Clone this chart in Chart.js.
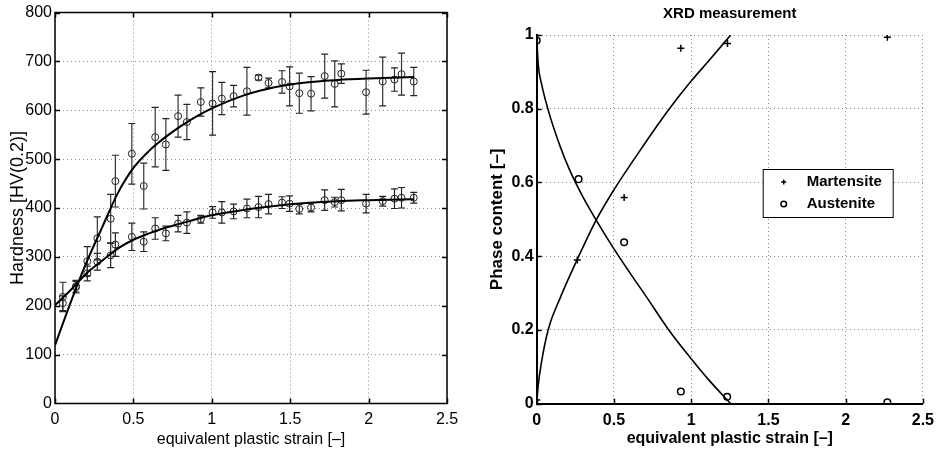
<!DOCTYPE html>
<html>
<head>
<meta charset="utf-8">
<script src="https://cdn.jsdelivr.net/npm/chart.js"></script>
<style>
  body { margin: 0; background: #fff; }
  #wrap { position: relative; width: 941px; height: 454px; }
  canvas { position: absolute; top: 0; }
</style>
</head>
<body>
<div id="wrap">
  <canvas id="hard" width="470" height="454" style="left:0"></canvas>
  <canvas id="xrd" width="471" height="454" style="left:470px"></canvas>
</div>
<script>
// Hardness measurements (left panel)
var strain = [0.05, 0.134, 0.206, 0.27, 0.355, 0.385, 0.49, 0.566, 0.639, 0.707, 0.785, 0.841, 0.93, 1.005, 1.064, 1.139,
              1.224, 1.298, 1.362, 1.448, 1.496, 1.558, 1.633, 1.72, 1.784, 1.826, 1.984, 2.09, 2.165, 2.21, 2.288];
var hardHigh = [218, 240, 291, 338, 378, 455, 511, 445, 545, 530, 588, 576, 617, 614, 624, 629,
                639, 667, 656, 658, 649, 635, 634, 670, 654, 675, 637, 659, 663, 674, 659];
var errHigh = [30, 12, 30, 44, 50, 53, 62, 47, 61, 53, 43, 36, 29, 65, 33, 22,
               49, 5, 10, 23, 40, 41, 35, 45, 47, 20, 45, 50, 24, 43, 29];
var hardLow = [205, 238, 266, 290, 303, 325, 341, 331, 358, 348, 368, 370, 377, 391, 391, 393,
               399, 402, 408, 411, 409, 398, 401, 416, 412, 416, 409, 414, 419, 421, 421];
var errLow = [15, 12, 15, 17, 25, 24, 28, 20, 22, 15, 17, 22, 8, 12, 22, 15,
              19, 22, 20, 12, 16, 10, 9, 21, 10, 22, 19, 10, 20, 21, 11];

// fitted curves
var fitX = [0, 0.1, 0.2, 0.3, 0.4, 0.5, 0.6, 0.7, 0.8, 0.9, 1.0, 1.2, 1.4, 1.6, 1.8, 2.0, 2.29];
var fitHigh = [119, 207, 288, 360, 430, 482, 517, 544, 567, 587, 604, 630, 647, 657, 662, 665, 668];
var fitLow = [201, 232, 266, 292, 317, 335, 348, 359, 368, 377, 385, 396, 404, 410, 414, 416, 418];

var hardTicksX = [0, 0.5, 1, 1.5, 2, 2.5];
var hardTicksY = [0, 100, 200, 300, 400, 500, 600, 700, 800];

// XRD measurement (right panel)
var xrdStrain = [0, 0.263, 0.566, 0.933, 1.235, 2.27];
var martensite = [0.01, 0.39, 0.559, 0.964, 0.977, 0.994];
var austStrain = [0, 0.271, 0.566, 0.933, 1.233, 2.27];
var austenite = [0.985, 0.609, 0.438, 0.033, 0.019, 0.004];

var martCurveX = [0, 0.01, 0.03, 0.074, 0.15, 0.25, 0.385, 0.5, 0.65, 0.854, 1.0, 1.11, 1.256];
var martCurveY = [0, 0.05, 0.11, 0.2, 0.285, 0.38, 0.498, 0.58, 0.675, 0.797, 0.875, 0.928, 1.0];
var austCurveX = [0, 0.01, 0.03, 0.074, 0.15, 0.213, 0.3, 0.385, 0.5, 0.6, 0.705, 0.855, 1.0, 1.111, 1.256];
var austCurveY = [0.995, 0.92, 0.87, 0.797, 0.70, 0.634, 0.56, 0.498, 0.42, 0.357, 0.293, 0.2, 0.122, 0.066, 0];

var xrdTicksX = [0, 0.5, 1, 1.5, 2, 2.5];
var xrdTicksY = [0, 0.2, 0.4, 0.6, 0.8, 1];

Chart.defaults.font.family = '"Liberation Sans", Arial, Helvetica, sans-serif';
Chart.defaults.font.size = 16;
Chart.defaults.color = '#000';

function pts(xs, ys) {
    return xs.map(function (x, i) { return {x: x, y: ys[i]}; });
}

// vertical error segments, broken by null points
function errSegments(xs, ys, es) {
    var out = [];
    xs.forEach(function (x, i) {
        out.push({x: x, y: ys[i] - es[i]}, {x: x, y: ys[i] + es[i]}, {x: x, y: null});
    });
    return out;
}
function errCaps(xs, ys, es) {
    var out = [];
    xs.forEach(function (x, i) {
        out.push({x: x, y: ys[i] - es[i]}, {x: x, y: ys[i] + es[i]});
    });
    return out;
}

function plainLabel(v) { return String(v); }

// frame, inward tick marks, legend and title
var decor = {
    id: 'decor',
    afterDraw: function (chart, args, o) {
        var ctx = chart.ctx, a = chart.chartArea, sx = chart.scales.x, sy = chart.scales.y;
        ctx.save();
        ctx.strokeStyle = '#000';
        ctx.lineWidth = o.lw;
        ctx.beginPath();
        if (o.box) {
            ctx.rect(a.left, a.top, a.right - a.left, a.bottom - a.top);
        }
        sx.ticks.forEach(function (t) {
            var px = Math.round(sx.getPixelForValue(t.value)) + 0.5;
            ctx.moveTo(px, a.bottom); ctx.lineTo(px, a.bottom - 5);
            if (o.box) { ctx.moveTo(px, a.top); ctx.lineTo(px, a.top + 5); }
        });
        sy.ticks.forEach(function (t) {
            var py = Math.round(sy.getPixelForValue(t.value)) + 0.5;
            ctx.moveTo(a.left, py); ctx.lineTo(a.left + 5, py);
            if (o.box) { ctx.moveTo(a.right, py); ctx.lineTo(a.right - 5, py); }
        });
        ctx.stroke();

        if (o.title) {
            ctx.fillStyle = '#000';
            ctx.font = 'bold 15px "Liberation Sans", Arial, sans-serif';
            ctx.textAlign = 'center';
            ctx.textBaseline = 'middle';
            ctx.fillText(o.title, (a.left + a.right) / 2, 14);
        }

        if (o.legend) {
            var L = o.legend;
            ctx.lineWidth = 1;
            ctx.fillStyle = '#fff';
            ctx.fillRect(L.x, L.y, L.w, L.h);
            ctx.strokeRect(L.x + 0.5, L.y + 0.5, L.w, L.h);
            ctx.font = 'bold 15px "Liberation Sans", Arial, sans-serif';
            ctx.textAlign = 'left';
            ctx.textBaseline = 'middle';
            var items = chart.data.datasets.filter(function (d) { return d.label; });
            items.forEach(function (d, i) {
                var yy = L.y + 13 + i * 22, mx = L.x + 21;
                ctx.beginPath();
                ctx.lineWidth = 1.5;
                if (d.pointStyle === 'cross') {
                    ctx.moveTo(mx - 2.5, yy); ctx.lineTo(mx + 2.5, yy);
                    ctx.moveTo(mx, yy - 2.5); ctx.lineTo(mx, yy + 2.5);
                } else {
                    ctx.arc(mx, yy, 2.8, 0, Math.PI * 2);
                }
                ctx.stroke();
                ctx.fillStyle = '#000';
                ctx.fillText(d.label, L.x + 44, yy);
            });
        }
        ctx.restore();
    }
};

var dotGrid = {color: '#8c8c8c', lineWidth: 1, drawTicks: false};

// Hardness chart
new Chart(document.getElementById('hard').getContext('2d'), {
    type: 'scatter',
    data: {
        datasets: [
            {data: pts(fitX, fitHigh), showLine: true, pointRadius: 0, borderColor: '#000', borderWidth: 2,
             cubicInterpolationMode: 'monotone'},
            {data: pts(fitX, fitLow), showLine: true, pointRadius: 0, borderColor: '#000', borderWidth: 2,
             cubicInterpolationMode: 'monotone'},
            {data: errSegments(strain, hardHigh, errHigh), showLine: true, spanGaps: false, pointRadius: 0,
             borderColor: '#333', borderWidth: 1.2},
            {data: errSegments(strain, hardLow, errLow), showLine: true, spanGaps: false, pointRadius: 0,
             borderColor: '#222', borderWidth: 1.2},
            {data: errCaps(strain, hardHigh, errHigh), pointStyle: 'line', pointRadius: 3.5,
             borderColor: '#222', borderWidth: 1.2},
            {data: errCaps(strain, hardLow, errLow), pointStyle: 'line', pointRadius: 3.5,
             borderColor: '#222', borderWidth: 1.2},
            {data: pts(strain, hardHigh), pointStyle: 'circle', pointRadius: 3.5, borderColor: '#222',
             backgroundColor: 'rgba(0,0,0,0)', borderWidth: 1},
            {data: pts(strain, hardLow), pointStyle: 'circle', pointRadius: 3.5, borderColor: '#222',
             backgroundColor: 'rgba(0,0,0,0)', borderWidth: 1}
        ]
    },
    options: {
        responsive: false,
        animation: false,
        layout: {padding: {top: 12, right: 23, left: 0, bottom: 0}},
        plugins: {
            legend: {display: false},
            tooltip: {enabled: false},
            decor: {box: true, lw: 1.5}
        },
        scales: {
            x: {
                type: 'linear', min: 0, max: 2.5,
                afterBuildTicks: function (s) { s.ticks = hardTicksX.map(function (v) { return {value: v}; }); },
                afterFit: function (s) { s.height = 50.6; },
                ticks: {autoSkip: false, maxRotation: 0, padding: 7, callback: plainLabel},
                grid: dotGrid,
                border: {display: false, dash: [1, 3]},
                title: {display: true, text: 'equivalent plastic strain [–]', font: {size: 16}, padding: {top: 0, bottom: 5}}
            },
            y: {
                type: 'linear', min: 0, max: 800,
                afterBuildTicks: function (s) { s.ticks = hardTicksY.map(function (v) { return {value: v}; }); },
                afterFit: function (s) { s.width = 55; },
                ticks: {autoSkip: false, padding: 3, callback: plainLabel},
                grid: dotGrid,
                border: {display: false, dash: [1, 3]},
                title: {display: true, text: 'Hardness [HV(0.2)]', font: {size: 18}, padding: {top: 7, bottom: 0}}
            }
        }
    },
    plugins: [decor]
});

// XRD chart
new Chart(document.getElementById('xrd').getContext('2d'), {
    type: 'scatter',
    data: {
        datasets: [
            {label: 'Martensite', data: pts(xrdStrain, martensite), pointStyle: 'cross', pointRadius: 3.5,
             borderColor: '#000', borderWidth: 1.5},
            {label: 'Austenite', data: pts(austStrain, austenite), pointStyle: 'circle', pointRadius: 3.3,
             borderColor: '#000', backgroundColor: 'rgba(0,0,0,0)', borderWidth: 1.5},
            {data: pts(martCurveX, martCurveY), showLine: true, pointRadius: 0, borderColor: '#000', borderWidth: 1.6,
             cubicInterpolationMode: 'monotone'},
            {data: pts(austCurveX, austCurveY), showLine: true, pointRadius: 0, borderColor: '#000', borderWidth: 1.6,
             cubicInterpolationMode: 'monotone'}
        ]
    },
    options: {
        responsive: false,
        animation: false,
        layout: {padding: {top: 35, right: 14.3, left: 0, bottom: 0}},
        plugins: {
            legend: {display: false},
            tooltip: {enabled: false},
            decor: {box: false, lw: 1.5, title: 'XRD measurement',
                    legend: {x: 292.7, y: 169, w: 130, h: 48}}
        },
        scales: {
            x: {
                type: 'linear', min: 0, max: 2.5,
                afterBuildTicks: function (s) { s.ticks = xrdTicksX.map(function (v) { return {value: v}; }); },
                afterFit: function (s) { s.height = 50.3; },
                ticks: {autoSkip: false, maxRotation: 0, padding: 7, font: {weight: 'bold'}, callback: plainLabel},
                grid: dotGrid,
                border: {display: true, color: '#000', width: 2, dash: [1, 3]},
                title: {display: true, text: 'equivalent plastic strain [–]', font: {size: 16, weight: 'bold'},
                        padding: {top: 0, bottom: 6}}
            },
            y: {
                type: 'linear', min: 0, max: 1,
                afterBuildTicks: function (s) { s.ticks = xrdTicksY.map(function (v) { return {value: v}; }); },
                afterFit: function (s) { s.width = 66.7; },
                ticks: {autoSkip: false, padding: 3, font: {weight: 'bold'}, callback: plainLabel},
                grid: dotGrid,
                border: {display: true, color: '#000', width: 2, dash: [1, 3]},
                title: {display: true, text: 'Phase content [–]', font: {size: 17, weight: 'bold'},
                        padding: {top: 17, bottom: 0}}
            }
        }
    },
    plugins: [decor]
});
</script>
</body>
</html>
